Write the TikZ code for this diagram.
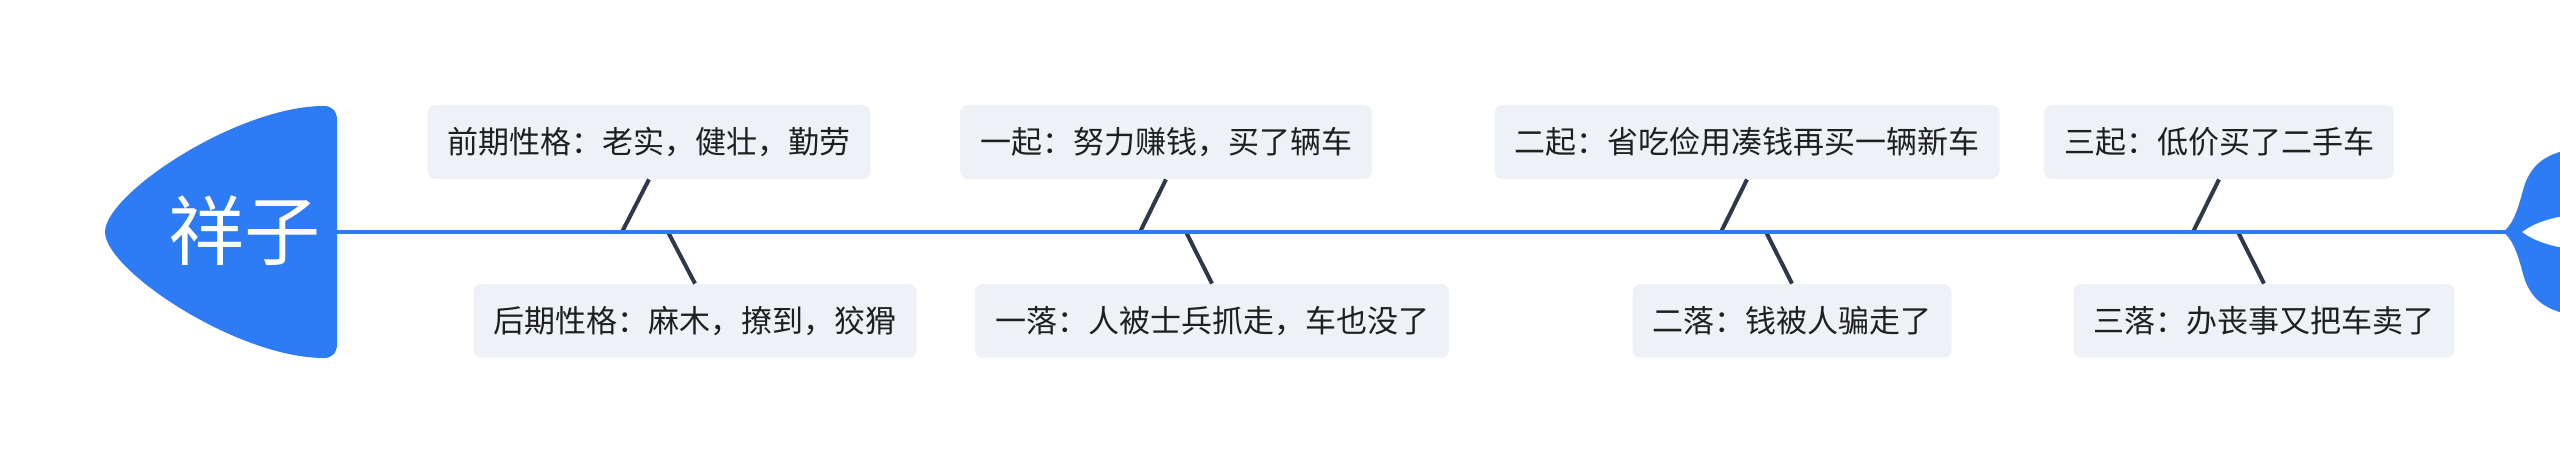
\documentclass[tikz,border=0pt]{standalone}
\usepackage{fontspec}
\setmainfont{Noto Sans CJK SC}
\usepackage{tikz}
\definecolor{fishblue}{RGB}{46,123,246}
\definecolor{bonegray}{RGB}{46,58,75}
\definecolor{boxfill}{RGB}{238,241,245}

\begin{document}
\begin{tikzpicture}[x=0.5pt,y=0.5pt,yscale=-1,xscale=1,
  topic/.style={fill=boxfill, rounded corners=4pt, minimum height=37pt, inner xsep=10pt, inner ysep=0pt, font=\fontsize{15.5}{18}\selectfont, text=black!88},
  bone/.style={draw=bonegray, line width=2pt},
  spine/.style={draw=fishblue, line width=2pt}]
\path[use as bounding box] (0,0) rectangle (2560,464);

%Shape: Head
\fill[fishblue] (105,232) .. controls (105,194) and (237,106) .. (324,106) .. controls (332,106) and (337,111) .. (337,120) -- (337,344) .. controls (337,353) and (332,358) .. (324,358) .. controls (237,358) and (105,270) .. (105,232) -- cycle;
%Shape: Tail
\begin{scope}
\clip (0,0) rectangle (2560,464);
\fill[fishblue] (2503,232) .. controls (2512,226) and (2518,210) .. (2523,190) .. controls (2530,165) and (2545,152) .. (2580,148) -- (2580,214) .. controls (2555,216) and (2535,222) .. (2522,232) .. controls (2535,242) and (2555,248) .. (2580,250) -- (2580,316) .. controls (2545,312) and (2530,299) .. (2523,274) .. controls (2518,254) and (2512,238) .. (2503,232) -- cycle;
\end{scope}

% Text Node
\node[text=white, font=\fontsize{38}{44}\selectfont] (hero) at (244,231) {祥子};

\coordinate (headR) at (337,232);
\coordinate (tailJ) at (2507,232);
\coordinate (q1) at (622,232);
\coordinate (q2) at (1140,232);
\coordinate (q3) at (1721,232);
\coordinate (q4) at (2193,232);
\coordinate (l1) at (668,232);
\coordinate (l2) at (1186,232);
\coordinate (l3) at (1766,232);
\coordinate (l4) at (2238,232);

% Text Node
\node[topic] (up1) at (649,142) {前期性格：老实，健壮，勤劳};
% Text Node
\node[topic] (up2) at (1166,142) {一起：努力赚钱，买了辆车};
% Text Node
\node[topic] (up3) at (1747,142) {二起：省吃俭用凑钱再买一辆新车};
% Text Node
\node[topic] (up4) at (2219,142) {三起：低价买了二手车};
% Text Node
\node[topic] (down1) at (695,321) {后期性格：麻木，撩到，狡猾};
% Text Node
\node[topic] (down2) at (1212,321) {一落：人被士兵抓走，车也没了};
% Text Node
\node[topic] (down3) at (1792,321) {二落：钱被人骗走了};
% Text Node
\node[topic] (down4) at (2264,321) {三落：办丧事又把车卖了};

%Straight Lines
\draw[bone] (up1.south) -- (q1);
\draw[bone] (up2.south) -- (q2);
\draw[bone] (up3.south) -- (q3);
\draw[bone] (up4.south) -- (q4);
\draw[bone] (down1.north) -- (l1);
\draw[bone] (down2.north) -- (l2);
\draw[bone] (down3.north) -- (l3);
\draw[bone] (down4.north) -- (l4);
%Straight Lines
\draw[spine] (headR) -- (tailJ);

\end{tikzpicture}
\end{document}
